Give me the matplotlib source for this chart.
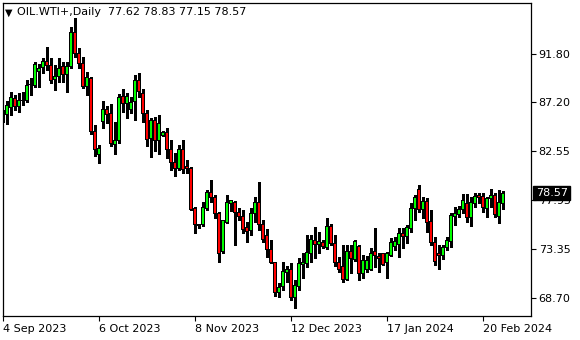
"""
oil_chart.py - OIL.WTI+ daily candles, terminal-style look
"""
import matplotlib
matplotlib.use("Agg")
import matplotlib.pyplot as plt

SYMBOL = "OIL.WTI+,Daily"

opens = [86.2, 86.00, 86.72, 87.57, 86.78, 87.40, 87.38, 88.85, 88.76, 90.09,
         90.50, 91.03, 90.72, 89.37, 89.61, 90.56, 89.87, 90.56, 93.81, 91.82,
         90.88, 88.70, 89.46, 84.48, 82.28, 85.36, 86.53, 86.09, 83.22, 83.56,
         87.79, 87.10, 86.47, 87.25, 89.21, 88.04, 86.16, 83.79, 85.43, 83.56,
         84.04, 84.36, 82.75, 81.49, 80.96, 82.69, 81.17, 80.96, 77.18, 75.69,
         75.66, 77.18, 78.65, 78.22, 76.64, 73.14, 75.85, 77.65, 77.77, 76.80,
         76.45, 75.38, 75.06, 76.64, 77.77, 75.60, 74.65, 73.30, 72.07, 69.20,
         69.77, 71.09, 71.41, 68.73, 69.77, 71.88, 71.98, 72.92, 74.09, 73.77,
         73.93, 73.49, 75.44, 73.87, 72.04, 71.68, 70.47, 73.08, 72.36, 73.61,
         70.97, 71.35, 71.41, 73.08, 72.67, 72.86, 72.04, 72.76, 73.55, 73.71,
         74.75, 74.56, 75.29, 77.18, 78.97, 77.08, 77.80, 75.91, 73.96, 72.86,
         72.76, 73.45, 74.02, 76.38, 76.61, 77.08, 77.65, 76.33, 77.65, 78.43,
         78.34, 77.18, 78.12, 78.43, 76.45, 77.62]
highs = [86.47, 87.32, 88.17, 87.88, 88.07, 88.17, 89.30, 89.49, 91.03, 90.81,
         91.41, 92.45, 91.38, 90.72, 91.38, 91.03, 91.03, 94.34, 95.16, 92.33,
         91.50, 90.06, 89.61, 85.05, 83.16, 87.34, 86.84, 87.03, 85.36, 87.95,
         88.42, 88.10, 87.72, 89.77, 89.93, 88.42, 86.47, 85.68, 85.83, 86.00,
         84.48, 84.74, 83.63, 82.37, 83.16, 83.63, 81.74, 81.11, 77.33, 75.72,
         77.74, 78.91, 79.85, 78.43, 76.86, 76.07, 78.43, 77.96, 77.87, 77.18,
         77.02, 75.91, 77.18, 78.27, 79.69, 76.07, 75.19, 74.18, 72.13, 70.09,
         72.13, 71.72, 72.04, 70.40, 72.45, 72.98, 74.65, 74.65, 75.38, 74.97,
         74.18, 76.23, 75.69, 74.65, 72.60, 73.71, 73.71, 73.71, 74.18, 73.71,
         72.76, 72.67, 73.40, 75.29, 72.98, 72.92, 73.08, 74.34, 74.49, 75.29,
         75.29, 75.60, 77.65, 78.43, 79.38, 78.27, 78.12, 77.02, 74.49, 73.71,
         73.71, 74.49, 76.70, 77.33, 77.39, 78.53, 78.53, 78.27, 78.59, 78.65,
         78.59, 78.27, 78.97, 78.59, 78.91, 78.83]
lows = [85.33, 85.14, 86.00, 86.47, 86.28, 86.94, 87.22, 87.88, 88.67, 88.67,
        89.93, 90.25, 89.02, 88.36, 89.14, 89.14, 88.20, 90.41, 91.50, 90.41,
        88.52, 87.88, 84.20, 82.12, 81.49, 84.74, 85.21, 83.06, 82.31, 83.38,
        86.31, 85.68, 86.16, 85.52, 87.72, 85.36, 83.06, 82.05, 82.62, 82.31,
        84.00, 81.90, 80.80, 80.23, 80.80, 80.48, 80.48, 77.02, 74.87, 75.29,
        75.50, 77.02, 77.80, 76.23, 72.13, 72.92, 75.76, 76.92, 73.71, 76.07,
        74.81, 74.02, 74.65, 75.91, 75.13, 74.02, 72.60, 71.98, 68.89, 68.77,
        69.46, 70.24, 68.51, 67.73, 69.46, 70.56, 71.66, 72.13, 72.45, 72.92,
        73.40, 73.30, 73.71, 71.72, 71.19, 70.24, 70.40, 71.03, 72.22, 70.40,
        70.56, 71.19, 71.35, 71.66, 71.19, 71.82, 70.56, 72.67, 73.24, 72.55,
        73.40, 73.93, 74.97, 76.07, 76.86, 76.23, 74.97, 73.71, 71.82, 71.41,
        72.36, 73.24, 73.55, 75.60, 76.38, 76.70, 75.91, 75.50, 77.27, 77.65,
        76.86, 76.33, 77.27, 76.38, 75.82, 77.15]
closes = [86.1, 86.87, 87.63, 86.78, 87.38, 87.35, 88.76, 88.90, 90.78, 90.41,
          91.03, 90.72, 89.30, 89.68, 90.41, 89.87, 90.56, 93.81, 91.82, 90.88,
          88.67, 89.56, 84.42, 82.69, 82.85, 86.47, 86.00, 83.32, 83.63, 87.67,
          87.10, 87.79, 87.22, 89.30, 88.20, 86.16, 83.70, 85.43, 83.63, 85.21,
          84.36, 82.75, 81.50, 80.96, 82.69, 80.86, 80.92, 77.11, 75.66, 75.53,
          77.27, 78.65, 78.22, 76.64, 72.92, 75.98, 77.71, 77.87, 76.76, 76.38,
          75.19, 74.97, 76.64, 77.77, 75.65, 74.25, 73.30, 72.07, 69.20, 69.71,
          71.25, 71.41, 68.77, 69.90, 71.98, 72.04, 72.98, 74.25, 73.77, 74.02,
          73.55, 75.50, 73.87, 72.04, 71.35, 70.47, 73.08, 72.45, 74.02, 70.97,
          72.29, 72.20, 72.86, 72.76, 72.48, 71.91, 72.86, 73.93, 74.02, 74.75,
          74.49, 75.38, 77.18, 78.22, 77.02, 77.80, 75.82, 73.96, 72.13, 72.70,
          73.49, 74.09, 76.54, 76.64, 77.02, 77.87, 76.29, 77.71, 78.34, 78.22,
          77.27, 78.12, 78.43, 76.61, 77.71, 78.57]

date_ticks = [0, 24, 48, 72, 96, 120]
date_labels = ["4 Sep 2023", "6 Oct 2023", "8 Nov 2023",
               "12 Dec 2023", "17 Jan 2024", "20 Feb 2024"]
price_ticks = [68.70, 73.35, 77.95, 82.55, 87.20, 91.80]

UP, DOWN = "#00ff00", "#ff0000"
PX = 0.0945  # one screen pixel in price units

fig = plt.figure(figsize=(5.8, 3.4), dpi=100, facecolor="white")
ax = fig.add_axes([3 / 580, 1 - 316 / 340, 528 / 580, 313 / 340])
ax.set_facecolor("white")

idx = list(range(len(opens)))
ax.vlines(idx, lows, highs, color="black", linewidth=0.8, zorder=2,
          antialiased=False)

# body = black box, coloured core inset by a pixel
bottoms = [min(o, c) - PX / 2 for o, c in zip(opens, closes)]
heights = [abs(c - o) + PX for o, c in zip(opens, closes)]
ax.bar(idx, heights, bottom=bottoms, width=0.76, color="black",
       linewidth=0, zorder=3, antialiased=False)
colors = [UP if c >= o else DOWN for o, c in zip(opens, closes)]
core_h = [max(h - 2 * PX, 0) for h in heights]
core_b = [b + PX for b in bottoms]
ax.bar(idx, core_h, bottom=core_b, width=0.42, color=colors,
       linewidth=0, zorder=4, antialiased=False)

ax.set_xlim(0, 132)
ax.set_ylim(67.0, 96.58)

ax.yaxis.tick_right()
ax.set_yticks(price_ticks)
ax.set_yticklabels([f"{p:.2f}" for p in price_ticks])
ax.set_xticks(date_ticks)
ax.set_xticklabels(date_labels, ha="left")
ax.tick_params(axis="both", direction="out", length=3.5, width=0.8,
               labelsize=8, colors="black", pad=2)
for sp in ax.spines.values():
    sp.set_color("black")
    sp.set_linewidth(0.9)

# header text
ax.text(0.004, 0.97, "▼", transform=ax.transAxes, fontsize=7,
        va="center", ha="left", color="black")
ax.text(0.027, 0.97, f"{SYMBOL}  {opens[-1]:.2f} {highs[-1]:.2f} "
        f"{lows[-1]:.2f} {closes[-1]:.2f}",
        transform=ax.transAxes, fontsize=8, va="center", ha="left",
        color="black")

# last price tag on the scale (covers most of the 77.95 label, as in the terminal)
ax.annotate(f"{closes[-1]:.2f}", xy=(1.0, closes[-1]),
            xycoords=("axes fraction", "data"), xytext=(3.5, 0.4),
            textcoords="offset points", fontsize=8, color="white",
            va="center", ha="left", annotation_clip=False, zorder=10,
            bbox=dict(boxstyle="square,pad=0.22", fc="black", ec="black"))

fig.savefig("out.png", dpi=100, facecolor=fig.get_facecolor())
